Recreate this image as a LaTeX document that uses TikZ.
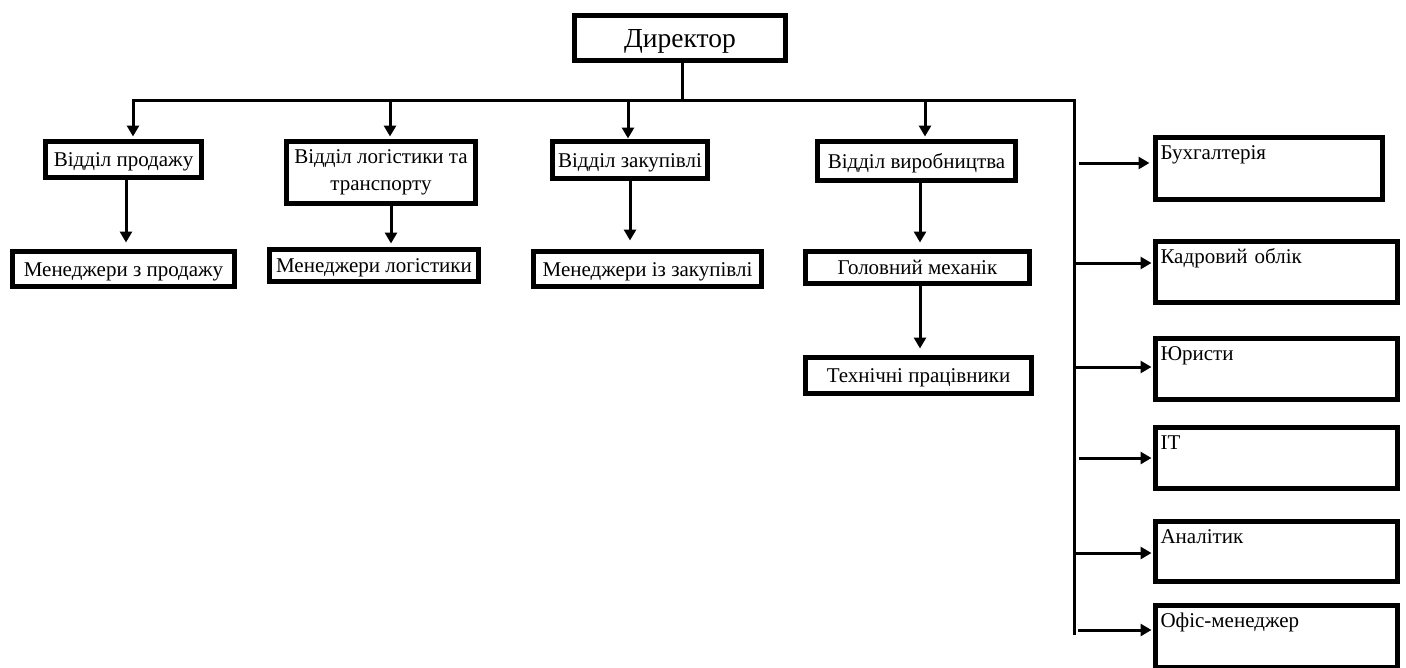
\documentclass[tikz,border=0pt]{standalone}
\usepackage{fontspec}
\setmainfont{Liberation Serif}
\usetikzlibrary{arrows.meta}
\begin{document}
\begin{tikzpicture}[x=1pt,y=-1pt,
  box/.style={draw,line width=5pt,inner sep=0pt,outer sep=0pt,
    font=\fontsize{21}{27}\selectfont,align=center},
  capc/.style={text height=14pt,text depth=0pt},
  sidebox/.style={draw,line width=5pt,outer sep=0pt,
    font=\fontsize{21}{25}\selectfont,align=left,
    inner xsep=5pt,inner ysep=8pt,text height=14pt},
  conn/.style={line width=3pt,line join=miter},
  arr/.style={line width=3pt,line join=miter,-{Triangle[length=11pt,width=12pt]}}]
\useasboundingbox (0,0) rectangle (1406,667);

% top level
\node[box,capc,text height=19pt,minimum width=211pt,minimum height=45pt,font=\fontsize{27.5}{30}\selectfont] (dir) at (680,38) {Директор};

% departments
\node[box,capc,minimum width=156pt,minimum height=36pt] (prod) at (123.5,159.5) {Відділ продажу};
\node[box,minimum width=189pt,minimum height=62pt] (log) at (381,172.5) {Відділ логістики та\\транспорту};
\node[box,capc,minimum width=155pt,minimum height=37pt] (zak) at (630,160) {Відділ закупівлі};
\node[box,capc,minimum width=198pt,minimum height=39pt] (vyr) at (916.5,161) {Відділ виробництва};

% second level
\node[box,capc,minimum width=222pt,minimum height=35pt] (mprod) at (123.5,269) {Менеджери з продажу};
\node[box,capc,minimum width=209pt,minimum height=32pt] (mlog) at (374,265.5) {Менеджери логістики};
\node[box,capc,minimum width=228pt,minimum height=35pt] (mzak) at (647.5,269) {Менеджери із закупівлі};
\node[box,capc,minimum width=224pt,minimum height=32pt] (mech) at (917.5,267.5) {Головний механік};
\node[box,capc,minimum width=226pt,minimum height=36pt] (tech) at (918.5,375.5) {Технічні працівники};

% right column
\node[sidebox,text width=217pt,text depth=32pt] (buh) at (1269,168.5) {Бухгалтерія};
\node[sidebox,text width=232pt,text depth=31pt] (kadr) at (1276.5,272) {Кадровий облік};
\node[sidebox,text width=232pt,text depth=31pt] (jur) at (1276.5,369) {Юристи};
\node[sidebox,text width=232pt,text depth=31pt] (it) at (1276.5,458) {IT};
\node[sidebox,text width=232pt,text depth=30pt] (anal) at (1276.5,551.5) {Аналітик};
\node[sidebox,text width=232pt,text depth=32pt] (ofis) at (1276.5,636.5) {Офіс-менеджер};

% bus coordinates
\coordinate (bL) at (133,100);
\coordinate (bR) at (1074,100);
\coordinate (bB) at (1074,635);
\coordinate (t2) at (390,100);
\coordinate (t3) at (628,100);
\coordinate (t4) at (925,100);

\draw[conn] ([xshift=2pt]dir.south) -- ([xshift=2pt]dir.south |- bL);
\draw[arr,shorten >=5pt] (bB) -- (bR) -- (bL) -- (bL |- prod.north);
\draw[arr,shorten >=5pt] (t2) -- (t2 |- log.north);
\draw[arr,shorten >=3pt] (t3) -- (t3 |- zak.north);
\draw[arr,shorten >=5pt] (t4) -- (t4 |- vyr.north);

% vertical links
\draw[arr,shorten >=9pt] ([xshift=2.5pt]prod.south) -- ([xshift=2.5pt]prod.south |- mprod.north);
\draw[arr,shorten >=6pt] ([xshift=10pt]log.south) -- ([xshift=10pt]log.south |- mlog.north);
\draw[arr,shorten >=11pt] (zak.south) -- (zak.south |- mzak.north);
\draw[arr,shorten >=9pt] ([xshift=3.5pt]vyr.south) -- ([xshift=3.5pt]vyr.south |- mech.north);
\draw[arr,shorten >=9pt] ([xshift=2.5pt]mech.south) -- ([xshift=2.5pt]mech.south |- tech.north);

% right links
\coordinate (r1) at (1079,163);
\coordinate (r2) at (1074,263);
\coordinate (r3) at (1074,367);
\coordinate (r4) at (1079,458);
\coordinate (r5) at (1074,553);
\coordinate (r6) at (1078,630);
\draw[arr,shorten >=6pt] (r1) -- (r1 -| buh.west);
\draw[arr,shorten >=4pt] (r2) -- (r2 -| kadr.west);
\draw[arr,shorten >=4pt] (r3) -- (r3 -| jur.west);
\draw[arr,shorten >=4pt] (r4) -- (r4 -| it.west);
\draw[arr,shorten >=4pt] (r5) -- (r5 -| anal.west);
\draw[arr,shorten >=4pt] (r6) -- (r6 -| ofis.west);
\end{tikzpicture}
\end{document}
